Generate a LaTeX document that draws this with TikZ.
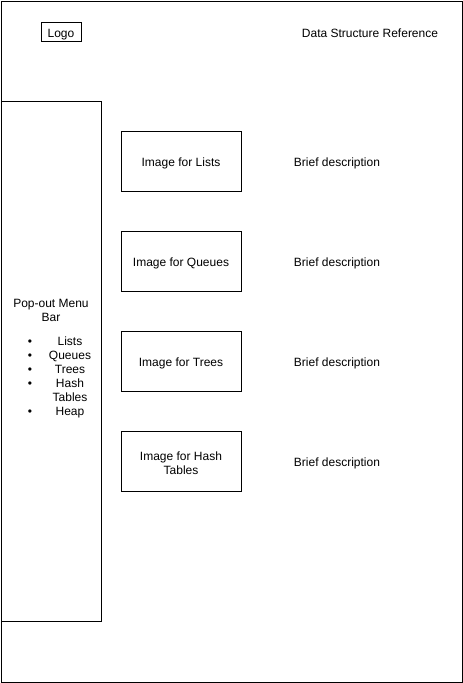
\documentclass[tikz,border=0pt]{standalone}
\usepackage{fontspec}
\setmainfont{Liberation Sans}
\usepackage{tikz}

\tikzset{
box/.style={draw, line width=1pt, minimum width=120pt, minimum height=60pt, inner sep=0pt},
txt/.style={font=\fontsize{12}{14}\selectfont, align=center, inner sep=0pt},
}

\begin{document}
\begin{tikzpicture}[x=1pt,y=-1pt]
\useasboundingbox (0,0) rectangle (463,683);
\draw[line width=1pt] (1,1) rectangle (462,682);

% header
\node[draw, line width=1pt, minimum width=40pt, minimum height=19pt, inner sep=0pt] (logo) at (61,32) {};
\node[txt, anchor=base] (logotext) at (61,37) {Logo};
\node[txt, anchor=base] (title) at (370,37) {Data Structure Reference};

% side menu
\draw[line width=1pt] (1,101) rectangle (101,621);
\node[txt] (menutitle) at (51,310) {Pop-out Menu\\Bar};
\foreach \y/\t/\n in {341/Lists/lists,355/Queues/queues,369/Trees/trees,383/Hash/hash,411/Heap/heap} {
\node[txt, anchor=base] (bul\n) at (30,\y+4) {\textbullet};
\node[txt, anchor=base] (item\n) at (70,\y+4) {\t};
}
\node[txt, anchor=base] (itemtables) at (70,401) {Tables};

% content rows
\foreach \y/\t/\n in {161/Lists/lists,261/Queues/queues,361/Trees/trees,461/{Hash\\Tables}/hash} {
\node[box] (img\n) at (181,\y) {};
\node[txt] (imgtext\n) at ([yshift=-2pt]img\n.center) {Image for \t};
\node[txt, anchor=base] (desc\n) at (337,\y+5) {Brief description};
}

\end{tikzpicture}
\end{document}
